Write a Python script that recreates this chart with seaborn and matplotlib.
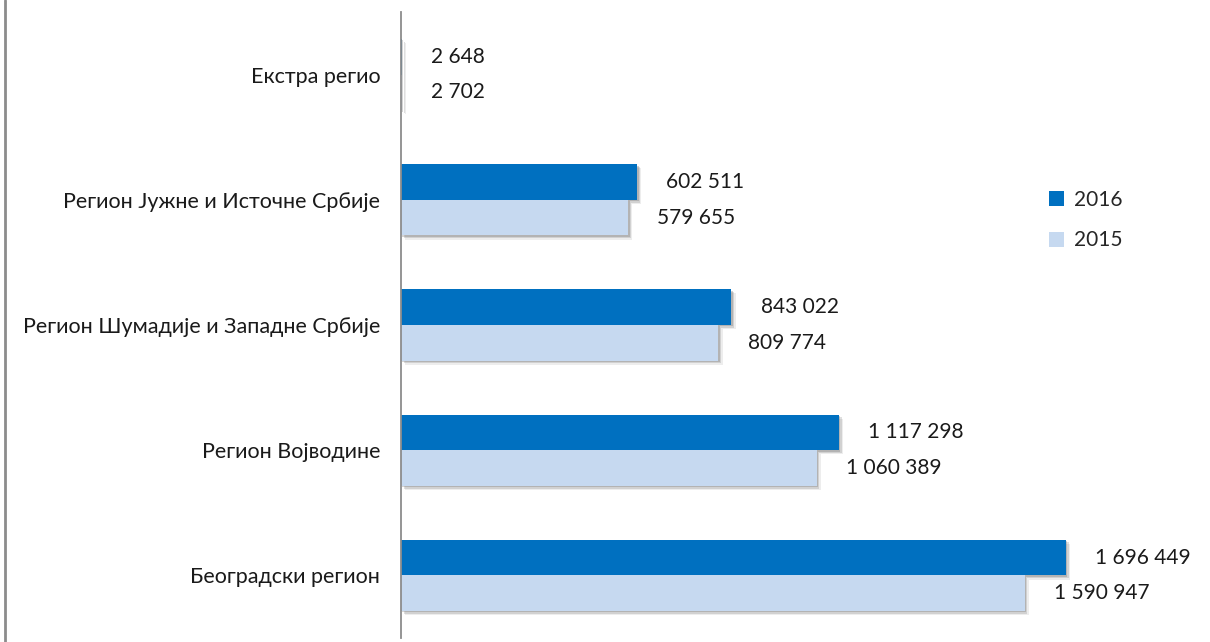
import matplotlib
matplotlib.use("Agg")
import matplotlib.pyplot as plt
import matplotlib.patheffects as pe
from matplotlib.lines import Line2D
from matplotlib.patches import Patch
import seaborn as sns
import pandas as pd

categories = ["Екстра регио",
              "Регион Јужне и Источне Србије",
              "Регион Шумадије и Западне Србије",
              "Регион Војводине",
              "Београдски регион"]
years = ["2016", "2015"]
values_2016 = [2648, 602511, 843022, 1117298, 1696449]
values_2015 = [2702, 579655, 809774, 1060389, 1590947]
colors = {"2016": "#0070C0", "2015": "#C6D9F0"}

df = pd.DataFrame({
    "region": categories * 2,
    "year": ["2016"] * len(categories) + ["2015"] * len(categories),
    "value": values_2016 + values_2015,
})

sns.set_theme(style="white")
plt.rcParams["font.family"] = ["Lato", "DejaVu Sans"]

fig = plt.figure(figsize=(12.10, 6.42), dpi=100)
ax = fig.add_axes([401 / 1210, 4 / 642, 1 - 401 / 1210, 626 / 642])

sns.barplot(data=df, y="region", x="value", hue="year", order=categories,
            hue_order=years, palette=colors, orient="h", width=0.57,
            ax=ax, legend=False, saturation=1, linewidth=0)

for p in ax.patches:
    p.set_path_effects([
        pe.SimplePatchShadow(offset=(3, -3), shadow_rgbFace="#a0a0a0", alpha=0.18),
        pe.SimplePatchShadow(offset=(2, -2), shadow_rgbFace="#808080", alpha=0.25),
        pe.SimplePatchShadow(offset=(1, -1), shadow_rgbFace="#707070", alpha=0.3),
        pe.Normal()])

def fmt(v):
    return f"{v:,}".replace(",", " ")

for cont in ax.containers:
    ax.bar_label(cont, labels=[fmt(int(v)) for v in cont.datavalues],
                 padding=21, fontsize=15, color="#1a1a1a")

ax.set_xlim(0, 809 * 1696449 / 665)
ax.set_ylim(4.5, -0.5)
ax.set_xlabel("")
ax.set_ylabel("")
ax.set_xticks([])
ax.tick_params(axis="y", length=0, pad=15, labelsize=15.5, labelcolor="#1a1a1a")
for s in ["top", "right", "bottom"]:
    ax.spines[s].set_visible(False)
ax.spines["left"].set_color("#8c8c8c")
ax.spines["left"].set_linewidth(1.3)

handles = [Patch(facecolor=colors[y], edgecolor="none", label=y) for y in years]
leg = fig.legend(handles=handles, loc="center left",
                 bbox_to_anchor=(1030 / 1210, (642 - 220) / 642),
                 frameon=False, fontsize=15, handlelength=0.75, handleheight=0.75,
                 handletextpad=0.45, labelspacing=1.0)

fig.add_artist(Line2D([5 / 1210, 5 / 1210], [0, 1], transform=fig.transFigure,
                      color="#8c8c8c", lw=2))

fig.savefig("out.png", dpi=100)
